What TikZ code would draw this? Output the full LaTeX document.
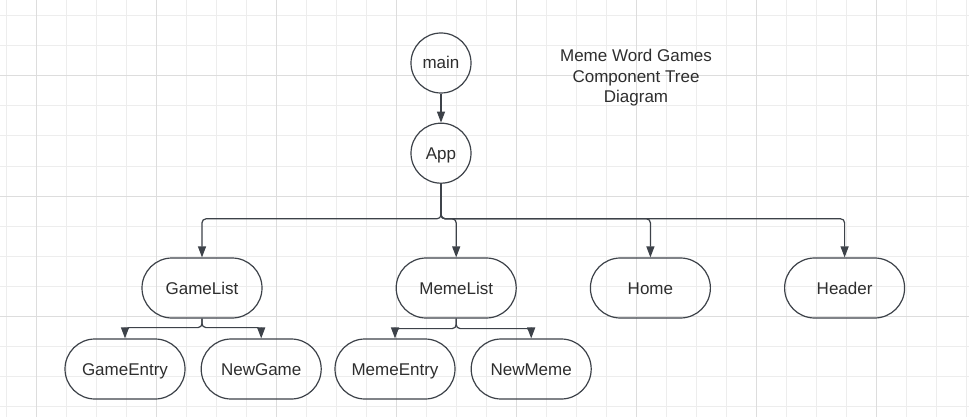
\documentclass[tikz,border=0pt]{standalone}
\usepackage{fontspec}
\setmainfont{Liberation Sans}
\usetikzlibrary{arrows.meta,positioning,shapes.misc}
\definecolor{inkgray}{HTML}{3D4249}
\definecolor{textgray}{HTML}{2E2E2E}
\definecolor{gridminor}{HTML}{EDEDED}
\definecolor{gridmajor}{HTML}{DDDDDD}

\begin{document}
\begin{tikzpicture}[
    x=1pt, y=-1pt,
    node distance=16pt and 16pt,
    comp/.style={circle, draw=inkgray, line width=1.2pt, minimum size=60pt, inner sep=0pt, text=textgray, text height=12pt, text depth=0pt, font=\fontsize{17}{20}\selectfont},
    part/.style={rounded rectangle, draw=inkgray, line width=1.2pt, minimum width=120pt, minimum height=60pt, inner sep=0pt, text=textgray, text height=12pt, text depth=0pt, font=\fontsize{17}{20}\selectfont},
    title/.style={align=center, text=textgray, font=\fontsize{17}{20.5}\selectfont},
    edge/.style={-{Triangle[length=11pt,width=8pt]}, line width=1.2pt, draw=inkgray, rounded corners=4pt},
    gridline/.style={draw=gridminor, line width=1pt},
    gridbold/.style={draw=gridmajor, line width=1pt}
]
    \useasboundingbox[fill=white] (0,0) rectangle (969,417);

    % Grid
    \foreach \gx in {6,36,...,966} \draw[gridline] (\gx,0) -- (\gx,417);
    \foreach \gy in {16,46,...,406} \draw[gridline] (0,\gy) -- (969,\gy);
    \foreach \gx in {36,156,...,876} \draw[gridbold] (\gx,0) -- (\gx,417);
    \foreach \gy in {76,196,316} \draw[gridbold] (0,\gy) -- (969,\gy);

    % Root
    \node[comp] (main) at (441,63) {main};
    \node[comp, below=29pt of main] (app) {App};
    \node[title] (caption) at (636,78) {Meme Word Games\\Component Tree\\Diagram};

    % Components
    \node[part] (gamelist) at (202,288) {GameList};
    \node[part, right=133pt of gamelist] (memelist) {MemeList};
    \node[part, right=73pt of memelist] (home) {Home};
    \node[part, right=73pt of home] (header) {Header};

    % Children
    \node[part] (gameentry) at (125,369) {GameEntry};
    \node[part, right=15pt of gameentry] (newgame) {NewGame};
    \node[part] (memeentry) at (395,369) {MemeEntry};
    \node[part, right=15pt of memeentry] (newmeme) {NewMeme};

    % Arrows
    \draw[edge] (main) -- (app);
    \draw[edge] (app.south) -- ++(0,-35pt) -| (gamelist.north);
    \draw[edge] (app.south) -- ++(0,-35pt) -| (memelist.north);
    \draw[edge] (app.south) -- ++(0,-35pt) -| (home.north);
    \draw[edge] (app.south) -- ++(0,-35pt) -| (header.north);
    \draw[edge] (gamelist.south) -- ++(0,-9pt) -| (gameentry.north);
    \draw[edge] (gamelist.south) -- ++(0,-9pt) -| (newgame.north);
    \draw[edge] (memelist.south) -- ++(0,-10pt) -| (memeentry.north);
    \draw[edge] (memelist.south) -- ++(0,-10pt) -| (newmeme.north);
\end{tikzpicture}
\end{document}
